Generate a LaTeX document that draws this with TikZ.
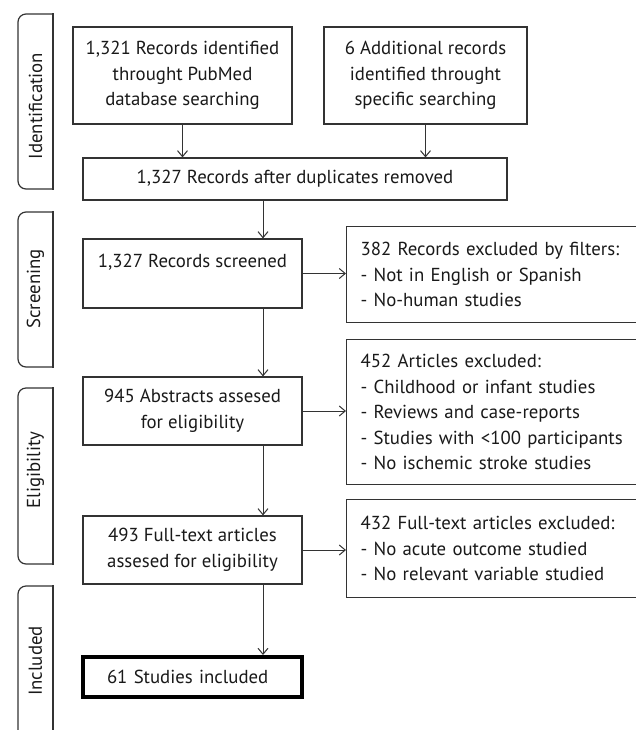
\documentclass[tikz,border=0pt]{standalone}
\usepackage{fontspec}
\setmainfont{PT Sans}
\usetikzlibrary{arrows.meta}

\begin{document}
\begin{tikzpicture}[
            x=.5pt, y=-.5pt,
            box/.style={draw=black!80, line width=.6pt, align=center, inner sep=0pt,
                font=\fontsize{9.4}{12.75}\selectfont, text=black!90},
            excl/.style={box, anchor=north west, align=left, text width=143pt, inner xsep=7pt},
            flow/.style={draw=black!80, line width=.5pt, -{Straight Barb[length=3pt, width=5pt]}},
            stage/.style={draw=black!80, line width=.6pt, rounded corners=4pt},
            lbl/.style={rotate=90, font=\fontsize{9.4}{12.75}\selectfont, text=black!90},
        ]
            \useasboundingbox (0,0) rectangle (636,730);

            %% stage bars on the left
            \foreach \name/\top/\bot/\mid/\txt in {ident/14/189/106/Identification,
                scr/212/367/289/Screening, elig/388/564/470/Eligibility, inc/586/745/661/Included}{
                \draw[stage] (53,\top) -- (18,\top) -- (18,\bot) -- (53,\bot);
                \draw[draw=black!80, line width=.6pt, line cap=rect] (53,\top) -- (53,\bot);
                \node[lbl] (\name) at (35.5,\mid) {\txt};
            }

            %% main column
            \node[box, minimum width=109.5pt, minimum height=48.5pt] (pubmed) at (182.5,75.5)
                {1,321 Records identified\\throught PubMed\\database searching};
            \node[box, minimum width=101.5pt, minimum height=48.5pt] (extra) at (425.5,75.5)
                {6 Additional records\\identified throught\\specific searching};
            \node[box, minimum width=212pt, minimum height=21pt] (dedup) at (295,179)
                {1,327 Records after duplicates removed};
            \node[box, minimum width=109.5pt, minimum height=34.5pt] (screen) at (192.5,273.5)
                {1,327 Records screened\\\mbox{}};
            \node[box, minimum width=109.5pt, minimum height=34pt] (abstr) at (192.5,411)
                {945 Abstracts assesed\\for eligibility};
            \node[box, minimum width=109.5pt, minimum height=34pt] (fulltext) at (192.5,550)
                {493 Full-text articles\\assesed for eligibility};
            \node[box, draw=black, line width=2pt, text width=85.5pt, align=left, inner xsep=12pt,
                minimum height=20pt] (incl) at (192.5,677) {61 Studies included};

            %% exclusions
            \node[excl, minimum height=48pt] (filt) at (346,226)
                {382 Records excluded by filters:\\- Not in English or Spanish\\- No-human studies};
            \node[excl, minimum height=72.5pt] (abex) at (346,339)
                {452 Articles excluded:\\- Childhood or infant studies\\- Reviews and case-reports\\- Studies with <100 participants\\- No ischemic stroke studies};
            \node[excl, minimum height=49pt] (ftex) at (346,499)
                {432 Full-text articles excluded:\\- No acute outcome studied\\- No relevant variable studied};

            %% arrows
            \coordinate (spine) at (263,0);
            \draw[flow] (pubmed.south) -- (pubmed.south |- dedup.north);
            \draw[flow] (extra.south) -- (extra.south |- dedup.north);
            \draw[flow] (dedup.south -| spine) -- (screen.north -| spine);
            \draw[flow] (screen.south -| spine) -- (abstr.north -| spine);
            \draw[flow] (abstr.south -| spine) -- (fulltext.north -| spine);
            \draw[flow] (fulltext.south -| spine) -- (incl.north -| spine);
            \draw[flow] (screen.east) -- (screen.east -| filt.west);
            \draw[flow] (abstr.east) -- (abstr.east -| abex.west);
            \draw[flow] (fulltext.east) -- (fulltext.east -| ftex.west);
        \end{tikzpicture}
\end{document}
